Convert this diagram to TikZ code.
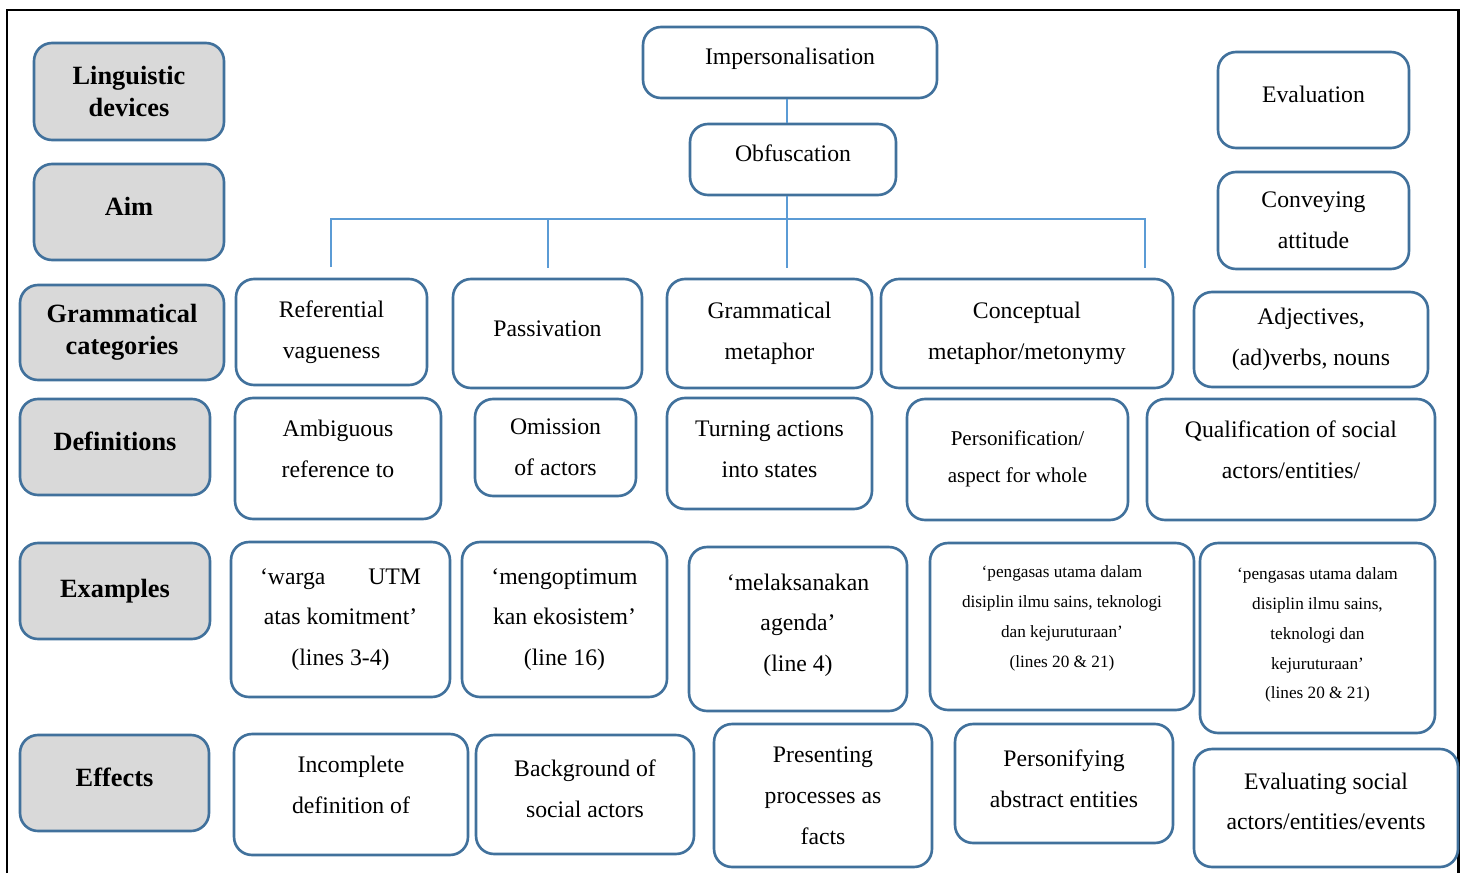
\documentclass[tikz,border=0pt]{standalone}
\usepackage{fontspec}
\setmainfont{Liberation Serif}
\usetikzlibrary{positioning}
\definecolor{boxblue}{RGB}{65,113,156}
\definecolor{linkblue}{RGB}{91,155,213}
\definecolor{labgray}{RGB}{217,217,217}

\begin{document}
\begin{tikzpicture}[x=0.02cm,y=-0.02cm,
	box/.style={draw=boxblue,line width=1.5pt,rounded corners=0.36cm,align=center,inner sep=2pt,font=\fontsize{13.5}{23.2}\selectfont},
	head/.style={box,fill=labgray,font=\fontsize{15}{18}\selectfont\bfseries},
	small/.style={box,font=\fontsize{9.8}{17}\selectfont},
	lift/.style={text depth=#1},
	conn/.style={draw=linkblue,line width=0.9pt}]
	\useasboundingbox (0,0) rectangle (1465,873);
	\draw[line width=1.7pt] (7,873)--(7,10)--(1458,10)--(1458,873);
	% left column
	\node (ling) at (129,91.5)[head,minimum width=3.8cm,minimum height=1.94cm] {Linguistic\\devices};
	\node (aim) at (129,212)[head,lift=0.24cm,minimum width=3.8cm,minimum height=1.92cm] {Aim};
	\node (gcat) at (122,332.5)[head,minimum width=4.08cm,minimum height=1.9cm] {Grammatical\\categories};
	\node (defs) at (115,447)[head,lift=0.24cm,minimum width=3.8cm,minimum height=1.92cm] {Definitions};
	\node (exs) at (115,591)[head,lift=0.12cm,minimum width=3.8cm,minimum height=1.92cm] {Examples};
	\node (effs) at (114.5,783)[head,lift=0.24cm,minimum width=3.78cm,minimum height=1.92cm] {Effects};
	% top
	\node (imp) at (790,62.5)[box,lift=0.26cm,minimum width=5.88cm,minimum height=1.42cm] {Impersonalisation};
	\node (obf) at (793,159.5)[box,lift=0.24cm,minimum width=4.12cm,minimum height=1.42cm] {Obfuscation};
	\node (eval) at (1313.5,100)[box,lift=0.24cm,minimum width=3.82cm,minimum height=1.92cm] {Evaluation};
	\node (conv) at (1313.5,220.5)[box,minimum width=3.82cm,minimum height=1.94cm] {Conveying\\attitude};
	% grammatical categories
	\node (ref) at (331.5,332)[box,minimum width=3.82cm,minimum height=2.12cm] {Referential\\vagueness};
	\node (pas) at (547.5,333.5)[box,lift=0.2cm,minimum width=3.78cm,minimum height=2.18cm] {Passivation};
	\node (gm) at (769.5,333.5)[box,minimum width=4.1cm,minimum height=2.18cm] {Grammatical\\metaphor};
	\node (conc) at (1027,333.5)[box,minimum width=5.84cm,minimum height=2.18cm] {Conceptual\\metaphor/metonymy};
	\node (adj) at (1311,339.5)[box,minimum width=4.68cm,minimum height=1.9cm] {Adjectives,\\(ad)verbs, nouns};
	% definitions
	\node (amb) at (338,458.5)[box,lift=0.38cm,minimum width=4.12cm,minimum height=2.42cm] {Ambiguous\\reference to};
	\node (omi) at (555.5,447.5)[box,minimum width=3.22cm,minimum height=1.94cm] {Omission\\of actors};
	\node (turn) at (769.5,453.5)[box,lift=0.16cm,minimum width=4.1cm,minimum height=2.22cm] {Turning actions\\into states};
	\node (pers) at (1017.5,459.5)[box,lift=0.12cm,minimum width=4.42cm,minimum height=2.42cm,font=\fontsize{12}{21.5}\selectfont] {Personification/\\aspect for whole};
	\node (qual) at (1291,459.5)[box,lift=0.4cm,minimum width=5.76cm,minimum height=2.42cm] {Qualification of social\\actors/entities/};
	% examples
	\node (warga) at (340.5,619.5)[box,minimum width=4.38cm,minimum height=3.1cm] {\makebox[3.22cm]{`warga\hfill UTM}\\atas komitment'\\(lines 3-4)};
	\node (meng) at (564.5,619.5)[box,minimum width=4.1cm,minimum height=3.1cm] {`mengoptimum\\kan ekosistem'\\(line 16)};
	\node (mel) at (798,629)[box,lift=0.25cm,minimum width=4.36cm,minimum height=3.28cm] {`melaksanakan\\agenda'\\(line 4)};
	\node (peng1) at (1062,626.5)[small,lift=0.39cm,minimum width=5.28cm,minimum height=3.34cm] {`pengasas utama dalam\\disiplin ilmu sains, teknologi\\dan kejuruturaan'\\(lines 20 \& 21)};
	\node (peng2) at (1317.5,638)[small,lift=0.19cm,minimum width=4.7cm,minimum height=3.8cm] {`pengasas utama dalam\\disiplin ilmu sains,\\teknologi dan\\kejuruturaan'\\(lines 20 \& 21)};
	% effects
	\node (inc) at (351,794.5)[box,lift=0.38cm,minimum width=4.68cm,minimum height=2.42cm] {Incomplete\\definition of};
	\node (bg) at (585,794.5)[box,lift=0.24cm,minimum width=4.36cm,minimum height=2.38cm] {Background of\\social actors};
	\node (pres) at (823,795.5)[box,minimum width=4.36cm,minimum height=2.86cm] {Presenting\\processes as\\facts};
	\node (pabs) at (1064,783.5)[box,lift=0.2cm,minimum width=4.36cm,minimum height=2.38cm] {Personifying\\abstract entities};
	\node (evs) at (1326,808)[box,lift=0.27cm,minimum width=5.28cm,minimum height=2.36cm] {Evaluating social\\actors/entities/events};
	% connectors
	\coordinate (bref) at (331,219);
	\coordinate (bcon) at (1145,219);
	\coordinate (tref) at (331,267);
	\coordinate (tpas) at (548,268);
	\coordinate (tgm) at (787,268);
	\coordinate (tcon) at (1145,268);
	\draw[conn] (tgm |- imp.south) -- (tgm |- obf.north);
	\draw[conn] (tgm |- obf.south) -- (tgm);
	\draw[conn] (tref) -- (bref) -- (bcon) -- (tcon);
	\draw[conn] (bref -| tpas) -- (tpas);
\end{tikzpicture}
\end{document}
